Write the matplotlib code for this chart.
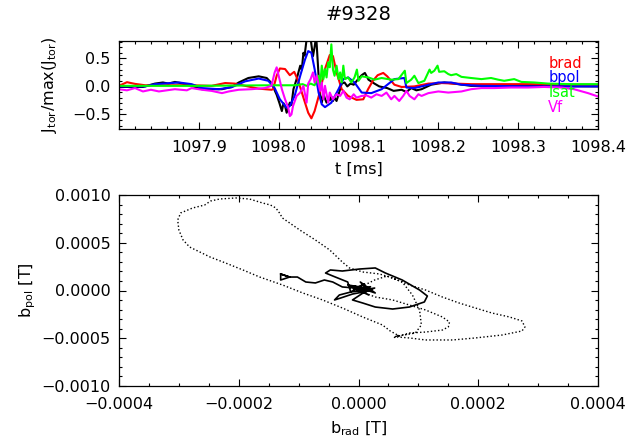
import numpy as np
import matplotlib
matplotlib.use("Agg")
import matplotlib.pyplot as plt
from matplotlib.ticker import MultipleLocator, FuncFormatter

plt.rcParams['font.family'] = ['DejaVu Sans']
plt.rcParams['mathtext.default'] = 'regular'

title = "#9328"

# ---------------- top panel data (t in ms, normalised J) ----------------
t_black = [1097.800, 1097.830, 1097.845, 1097.855, 1097.862, 1097.870, 1097.877, 1097.885,
           1097.891, 1097.904, 1097.915, 1097.929, 1097.941, 1097.950, 1097.962, 1097.975,
           1097.985, 1097.991, 1097.9975, 1098.001, 1098.004, 1098.006, 1098.008, 1098.010,
           1098.0125, 1098.014, 1098.016, 1098.0185, 1098.0225, 1098.027, 1098.029, 1098.031,
           1098.0325, 1098.035, 1098.0375, 1098.040, 1098.043, 1098.045, 1098.047, 1098.050,
           1098.052, 1098.054, 1098.056, 1098.0575, 1098.060, 1098.0625, 1098.064, 1098.066,
           1098.068, 1098.070, 1098.0725, 1098.077, 1098.079, 1098.0825, 1098.086, 1098.090,
           1098.094, 1098.099, 1098.104, 1098.108, 1098.1125, 1098.120, 1098.126, 1098.136,
           1098.144, 1098.154, 1098.160, 1098.166, 1098.1725, 1098.179, 1098.191, 1098.2075,
           1098.225, 1098.241, 1098.279, 1098.400]
v_black = [-0.01, -0.01, 0.05, 0.07, 0.05, 0.08, 0.06, 0.03,
           0.01, -0.05, -0.05, -0.05, -0.01, 0.07, 0.15, 0.18,
           0.15, 0.06, -0.15, -0.30, -0.44, -0.30, -0.35, -0.47,
           -0.35, -0.29, -0.33, -0.05, 0.13, 0.37, 0.30, 0.60,
           0.55, 0.84, 0.90, 0.85, 0.54, 0.70, 0.90, 0.19,
           -0.15, -0.29, -0.12, -0.20, -0.29, -0.22, -0.25, -0.18,
           -0.26, -0.20, -0.26, -0.05, 0.05, 0.07, 0.00, 0.05,
           0.03, 0.12, 0.20, 0.24, 0.12, 0.05, 0.00, -0.03,
           -0.08, -0.06, -0.10, -0.03, -0.07, -0.05, 0.03, 0.07,
           0.04, 0.01, 0.01, 0.00]

t_brad = [1097.800, 1097.810, 1097.820, 1097.833, 1097.860, 1097.890, 1097.916, 1097.933,
          1097.945, 1097.958, 1097.975, 1097.991, 1097.993, 1097.9975, 1098.0015, 1098.008,
          1098.014, 1098.0195, 1098.0245, 1098.031, 1098.037, 1098.041, 1098.045, 1098.052,
          1098.058, 1098.064, 1098.068, 1098.0725, 1098.079, 1098.087, 1098.0975, 1098.106,
          1098.112, 1098.118, 1098.124, 1098.131, 1098.136, 1098.145, 1098.154, 1098.170,
          1098.1875, 1098.204, 1098.220, 1098.241, 1098.279, 1098.316, 1098.354, 1098.400]
v_brad = [0.01, 0.075, 0.045, 0.02, 0.02, 0.02, 0.01, 0.06,
          0.05, 0.01, -0.04, -0.06, -0.05, 0.19, 0.32, 0.31,
          0.20, 0.26, 0.10, -0.20, -0.47, -0.57, -0.44, -0.08,
          0.31, 0.56, 0.54, 0.25, -0.05, -0.17, -0.24, -0.23,
          -0.05, 0.10, 0.20, 0.24, 0.18, 0.03, -0.01, 0.00,
          0.05, 0.06, 0.05, 0.04, 0.04, 0.04, 0.03, 0.03]

t_bpol = [1097.800, 1097.833, 1097.845, 1097.875, 1097.891, 1097.904, 1097.925, 1097.941,
          1097.958, 1097.975, 1097.987, 1097.995, 1098.0015, 1098.010, 1098.014, 1098.020,
          1098.027, 1098.033, 1098.037, 1098.041, 1098.045, 1098.050, 1098.054, 1098.058,
          1098.066, 1098.075, 1098.081, 1098.087, 1098.095, 1098.104, 1098.116, 1098.129,
          1098.145, 1098.1575, 1098.160, 1098.170, 1098.179, 1098.200, 1098.216, 1098.229,
          1098.254, 1098.316, 1098.400]
v_bpol = [0.00, 0.00, 0.04, 0.07, 0.04, -0.03, -0.05, -0.015,
          0.09, 0.14, 0.10, -0.03, -0.23, -0.38, -0.35, -0.17,
          0.19, 0.48, 0.63, 0.60, 0.31, -0.11, -0.32, -0.37,
          -0.29, -0.05, 0.13, 0.16, 0.07, -0.11, -0.12, -0.05,
          0.13, 0.15, -0.02, -0.03, 0.00, 0.07, 0.07, 0.03,
          0.01, 0.00, 0.00]

t_isat = [1097.800, 1097.900, 1097.990, 1098.020, 1098.030, 1098.035, 1098.040, 1098.045,
          1098.050, 1098.052, 1098.054, 1098.056, 1098.058, 1098.060, 1098.062, 1098.064,
          1098.066, 1098.068, 1098.070, 1098.0725, 1098.075, 1098.077, 1098.079, 1098.081,
          1098.083, 1098.087, 1098.091, 1098.095, 1098.098, 1098.100, 1098.104, 1098.1125,
          1098.120, 1098.129, 1098.141, 1098.150, 1098.158, 1098.160, 1098.166, 1098.170,
          1098.175, 1098.1825, 1098.189, 1098.191, 1098.195, 1098.199, 1098.201, 1098.2075,
          1098.2125, 1098.216, 1098.2225, 1098.229, 1098.241, 1098.254, 1098.266, 1098.275,
          1098.2825, 1098.295, 1098.304, 1098.320, 1098.3375, 1098.366, 1098.400]
v_isat = [0.01, 0.01, 0.02, 0.02, 0.04, 0.01, 0.05, 0.02,
          0.19, 0.01, 0.37, 0.13, 0.31, 0.16, 0.43, 0.34,
          0.75, 0.30, 0.19, 0.37, 0.13, 0.25, 0.07, 0.37,
          0.13, 0.16, 0.07, 0.16, 0.30, 0.10, 0.18, 0.16,
          0.12, 0.15, 0.12, 0.13, 0.28, 0.06, 0.12, 0.19,
          0.06, 0.10, 0.30, 0.24, 0.28, 0.37, 0.26, 0.27,
          0.22, 0.20, 0.22, 0.17, 0.15, 0.13, 0.15, 0.12,
          0.10, 0.13, 0.08, 0.07, 0.05, 0.04, 0.04]

t_vf = [1097.800, 1097.810, 1097.820, 1097.830, 1097.840, 1097.850, 1097.870, 1097.885,
        1097.891, 1097.904, 1097.916, 1097.929, 1097.9375, 1097.950, 1097.966, 1097.9825,
        1097.991, 1097.995, 1097.9975, 1098.000, 1098.004, 1098.008, 1098.012, 1098.014,
        1098.016, 1098.018, 1098.0225, 1098.027, 1098.031, 1098.033, 1098.035, 1098.037,
        1098.040, 1098.043, 1098.045, 1098.0475, 1098.052, 1098.054, 1098.056, 1098.058,
        1098.062, 1098.064, 1098.068, 1098.0725, 1098.077, 1098.081, 1098.085, 1098.089,
        1098.094, 1098.0975, 1098.104, 1098.110, 1098.116, 1098.1225, 1098.129, 1098.135,
        1098.141, 1098.145, 1098.151, 1098.156, 1098.160, 1098.164, 1098.170, 1098.175,
        1098.179, 1098.1875, 1098.200, 1098.2125, 1098.229, 1098.241, 1098.254, 1098.270,
        1098.291, 1098.3125, 1098.3325, 1098.354, 1098.370, 1098.3875, 1098.400]
v_vf = [-0.05, -0.07, -0.03, -0.09, -0.06, -0.09, -0.05, -0.07,
        -0.03, -0.06, -0.08, -0.12, -0.09, -0.06, -0.05, -0.03,
        0.01, 0.25, 0.34, 0.19, -0.05, -0.23, -0.38, -0.53,
        -0.50, -0.35, -0.17, -0.11, 0.01, -0.14, -0.29, 0.05,
        0.13, 0.25, 0.07, 0.19, -0.08, 0.07, -0.23, 0.01,
        -0.29, -0.11, -0.23, -0.14, -0.17, -0.08, -0.20, -0.23,
        -0.14, -0.20, -0.17, -0.16, -0.20, -0.14, -0.17, -0.11,
        -0.23, -0.17, -0.26, -0.17, -0.08, -0.17, -0.23, -0.14,
        -0.17, -0.12, -0.09, -0.11, -0.09, -0.05, -0.03, -0.03,
        -0.02, -0.02, -0.01, -0.02, -0.05, -0.12, -0.18]

series_names = ["brad", "bpol", "Isat", "Vf"]
series_colors = ["#ff0000", "#0000ff", "#00ff00", "#ff00ff"]

# ---------------- bottom panel data (hodogram, micro-tesla) ----------------
dot_brad_uT = [0, 15, 28, 57, 85, 112, 140, 152, 150, 140, 112, 85, 68, 53, 40, 7, -27, -60,
               -93, -127, -165, -193, -222, -248, -282, -293, -300, -302, -297, -277, -257,
               -247, -232, -205, -182, -160, -147, -138, -132, -127, -115, -98, -72, -48, -27,
               -15, 7, 35, 57, 85, 112, 140, 168, 195, 223, 252, 273, 278, 273, 240, 195, 157,
               112, 85, 65, 60, 67, 62, 95, 105, 102, 90, 73, 48, 27, 7]
dot_bpol_uT = [5, -37, -68, -99, -152, -204, -277, -330, -382, -414, -435, -445, -476, -424,
               -361, -277, -183, -99, -26, 58, 141, 215, 288, 351, 455, 529, 633, 738, 812,
               864, 895, 937, 958, 969, 958, 916, 895, 864, 812, 759, 707, 633, 529, 424, 298,
               236, 194, 173, 131, 58, 5, -68, -131, -183, -236, -277, -319, -382, -424, -466,
               -497, -518, -518, -497, -487, -492, -466, -482, -445, -361, -204, -47, 89, 152,
               110, 47]

sol_brad_uT = [-130, -130, -115, -130, -115, -102, -88, -72, -57, -43, -27, -5, 10, -13, 23,
               -18, 17, -7, 28, 3, 17, -10, -30, -40, -32, -13, -18, -43, -55, -47, -27, 2,
               28, 45, 73, 102, 115, 110, 85, 57, 28, 7, -10, 10, 27, -2, 20, -8]
sol_bpol_uT = [173, 110, 141, 173, 141, 141, 89, 79, 110, 89, 37, 26, 68, -16, 16, 58, -47,
               47, -26, 89, -5, -37, -79, -99, -47, -16, 89, 152, 183, 215, 204, 225, 236,
               183, 110, 5, -58, -120, -173, -194, -173, -131, -99, -16, 26, -5, 40, 10]

# ---------------- figure ----------------
W, H = 627, 438
fig = plt.figure(figsize=(W / 100, H / 100), dpi=100)
ax1 = fig.add_axes([119 / W, 1 - 129 / H, 479 / W, 88 / H])
ax2 = fig.add_axes([119 / W, 1 - 386 / H, 479 / W, 191 / H])


def fmt(nd):
    return FuncFormatter(lambda v, p: f"{v:.{nd}f}".replace("-", "\u2212"))


FS = 11.5
lw = 1.5
ax1.plot(t_black, v_black, color="black", lw=lw)
ax1.plot(t_brad, v_brad, color=series_colors[0], lw=lw)
ax1.plot(t_bpol, v_bpol, color=series_colors[1], lw=lw)
ax1.plot(t_isat, v_isat, color=series_colors[2], lw=lw)
ax1.plot(t_vf, v_vf, color=series_colors[3], lw=lw)

ax1.set_xticks([1097.9, 1098.0, 1098.1, 1098.2, 1098.3, 1098.4])
ax1.xaxis.set_minor_locator(MultipleLocator(0.02))
ax1.yaxis.set_major_locator(MultipleLocator(0.5))
ax1.yaxis.set_minor_locator(MultipleLocator(0.1))
ax1.xaxis.set_major_formatter(fmt(1))
ax1.yaxis.set_major_formatter(fmt(1))
ax1.set_xlim(1097.8, 1098.4)
ax1.set_ylim(-0.76, 0.81)
ax1.set_title(title, fontsize=14, pad=15)
ax1.set_xlabel("t [ms]", fontsize=FS)
ax1.set_ylabel(r"$J_{tor}$/max($J_{tor}$)", fontsize=FS)
ax1.xaxis.set_label_coords(0.5, -0.37)
ax1.yaxis.set_label_coords(-0.125, 0.5)

for i, (nm, col) in enumerate(zip(series_names, series_colors)):
    ax1.text(0.896, 0.75 - i * 0.17, nm, color=col, fontsize=10.5,
             transform=ax1.transAxes, ha="left", va="center")

ax2.plot(np.array(dot_brad_uT) * 1e-6, np.array(dot_bpol_uT) * 1e-6, color="black",
         lw=1.0, linestyle=(0, (1, 1.6)))
ax2.plot(np.array(sol_brad_uT) * 1e-6, np.array(sol_bpol_uT) * 1e-6, color="black", lw=1.2)
ax2.xaxis.set_major_locator(MultipleLocator(0.0002))
ax2.xaxis.set_minor_locator(MultipleLocator(0.00005))
ax2.yaxis.set_major_locator(MultipleLocator(0.0005))
ax2.yaxis.set_minor_locator(MultipleLocator(0.0001))
ax2.xaxis.set_major_formatter(fmt(4))
ax2.yaxis.set_major_formatter(fmt(4))
ax2.set_xlim(-0.0004, 0.0004)
ax2.set_ylim(-0.0010, 0.0010)
ax2.set_xlabel(r"$b_{rad}$ [T]", fontsize=FS)
ax2.set_ylabel(r"$b_{pol}$ [T]", fontsize=FS)
ax2.xaxis.set_label_coords(0.5, -0.175)
ax2.yaxis.set_label_coords(-0.17, 0.5)

for ax in (ax1, ax2):
    ax.tick_params(which="both", direction="in", top=True, right=True, labelsize=FS)
    ax.tick_params(which="major", length=5, width=0.8)
    ax.tick_params(which="minor", length=2.5, width=0.8)
    ax.tick_params(axis="x", which="major", pad=8)
    ax.tick_params(axis="y", which="major", pad=6)
    for s in ax.spines.values():
        s.set_linewidth(0.9)

fig.savefig("out.png", dpi=100)
